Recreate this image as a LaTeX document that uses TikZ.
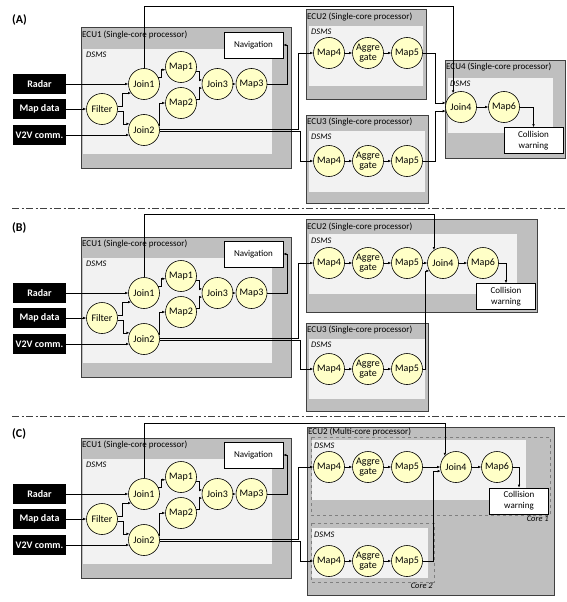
\documentclass[tikz,border=0pt]{standalone}
\usepackage{fontspec}
\setmainfont{Carlito}
\usetikzlibrary{arrows.meta}
\definecolor{ecugray}{HTML}{BFBFBF}
\definecolor{dsmsgray}{HTML}{F2F2F2}
\definecolor{opyellow}{HTML}{FFFFC7}
\definecolor{boxline}{HTML}{404040}
\definecolor{coregray}{HTML}{7F7F7F}

\newcommand{\ecuone}[2]{%
\begin{scope}[shift={(0,#2)}, name prefix=#1-]
\draw[ecu] (81,0) rectangle (291,140);
\fill[dsms] (83,21) rectangle (272,126);
\node[ecutitle] at (81,7) {ECU1 (Single-core processor)};
\node[dsmstitle] at (85,27) {DSMS};
\node(nav)[sink] at (253.5,17) {Navigation};
\node(radar)[src] at (39.5,56) {Radar};
\node(mapdata)[src] at (39.5,81) {Map data};
\node(v2v)[src] at (39.5,107) {V2V comm.};
\node(filter)[op] at (102,81) {Filter};
\node(join1)[op] at (144,56) {Join1};
\node(join2)[op] at (144,102) {Join2};
\node(map1)[op] at (181,39) {Map1};
\node(map2)[op] at (181,75) {Map2};
\node(join3)[op] at (217.5,56) {Join3};
\node(map3)[op] at (251.5,56) {Map3};
\draw[flow] (radar.east) -- (join1.west);
\draw[flow] (mapdata.east) -- (filter.west);
\draw[flow] (v2v.east) -- (v2v.east -| join2.200);
\draw[flow] (filter.10) -- ++(5,0) |- (join1.215);
\draw[flow] (filter.-8) -- ++(6,0) |- (join2.157);
\draw[flow] (join1.25) -- ++(3,0) |- (map1.190);
\draw[flow] (join2.15) |- (map2.west);
\draw[flow] (map1.345) -- ++(3,0) |- (join3.165);
\draw[flow] (map2.15) -- ++(3,0) |- (join3.195);
\draw[flow] (join3) -- (map3);
\draw[flow] (map3.east) -- ++(20,0) |- (nav.east);
\end{scope}}

\begin{document}
\begin{tikzpicture}[x=1pt,y=-1pt,
  ecu/.style={draw=boxline, fill=ecugray, line width=1pt},
  dsms/.style={fill=dsmsgray},
  core/.style={draw=coregray, dashed, line width=0.6pt},
  ecutitle/.style={anchor=west, inner sep=1pt, font=\fontsize{9}{10}\selectfont},
  dsmstitle/.style={anchor=west, inner sep=1pt, font=\fontsize{8.5}{10}\selectfont\itshape},
  coretitle/.style={anchor=north east, inner sep=1pt, font=\fontsize{8.5}{10}\selectfont\itshape},
  op/.style={circle, draw, line width=0.6pt, fill=opyellow, minimum size=31pt, inner sep=0pt, align=center, font=\fontsize{10}{10}\selectfont},
  src/.style={fill=black, text=white, minimum width=53pt, minimum height=20pt, inner sep=0pt, font=\fontsize{10}{12}\selectfont\bfseries},
  sink/.style={draw, fill=white, line width=0.6pt, minimum width=59pt, minimum height=26pt, inner sep=1pt, align=center, font=\fontsize{9}{11}\selectfont},
  flow/.style={line width=0.6pt, -{Latex[length=3pt,width=2.6pt]}},
  panel/.style={anchor=west, inner sep=0pt, font=\fontsize{12}{14}\selectfont\bfseries},
  cut/.style={draw=black!75, line width=0.9pt, dash pattern=on 7pt off 2.5pt on 2pt off 2.5pt}]
\useasboundingbox (0,0) rectangle (567,602);

% (A)
\node[panel] at (12,20) {(A)};
\ecuone{a}{28}
\draw[ecu] (306,10) rectangle (426,99);
\fill[dsms] (309,26) rectangle (423,86);
\node[ecutitle] at (306,17) {ECU2 (Single-core processor)};
\node[dsmstitle] at (310,32) {DSMS};
\node(a-map4)[op] at (329,53) {Map4};
\node(a-agg)[op] at (368,53) {Aggre\\gate};
\node(a-map5)[op] at (407,53) {Map5};
\draw[ecu] (306,115) rectangle (428,203);
\fill[dsms] (309,131) rectangle (425,192);
\node[ecutitle] at (306,122) {ECU3 (Single-core processor)};
\node[dsmstitle] at (310,137) {DSMS};
\node(a-map4b)[op] at (329,161) {Map4};
\node(a-aggb)[op] at (368,161) {Aggre\\gate};
\node(a-map5b)[op] at (407,161) {Map5};
\draw[ecu] (445,61) rectangle (565,158);
\fill[dsms] (448,78) rectangle (553,133);
\node[ecutitle] at (445,67) {ECU4 (Single-core processor)};
\node[dsmstitle] at (449,84) {DSMS};
\node(a-join4)[op] at (461,107) {Join4};
\node(a-map6)[op] at (504,107) {Map6};
\node(a-warn)[sink] at (533.5,140.5) {Collision\\warning};
\draw[flow] (a-map4) -- (a-agg);
\draw[flow] (a-agg) -- (a-map5);
\draw[flow] (a-map4b) -- (a-aggb);
\draw[flow] (a-aggb) -- (a-map5b);
\draw[flow] (a-join4) -- (a-map6);
\draw[flow] (a-map6.east) -| (a-warn.north);
\draw[flow] (a-map5.east) -- ++(12,0) |- (a-join4.165);
\draw[flow] (a-map5b.east) -- ++(12,0) |- (a-join4.195);
\draw[flow] (a-join2.4) -- ++(139,0) |- (a-map4.west);
\draw[flow] (a-join2.-6) -- ++(141,0) |- (a-map4b.west);
\draw[flow] (a-join1.north) -- (a-join1.north |- 0,6) -| (a-join4.120);

% (B)
\draw[cut] (12,208) -- (567,208);
\node[panel] at (12,228) {(B)};
\ecuone{b}{237}
\draw[ecu] (306,219) rectangle (537,312);
\fill[dsms] (309,234) rectangle (517,294);
\node[ecutitle] at (306,227) {ECU2 (Single-core processor)};
\node[dsmstitle] at (310,241) {DSMS};
\node(b-map4)[op] at (329,263) {Map4};
\node(b-agg)[op] at (368,263) {Aggre\\gate};
\node(b-map5)[op] at (407,263) {Map5};
\node(b-join4)[op] at (443,263) {Join4};
\node(b-map6)[op] at (483,263) {Map6};
\node(b-warn)[sink] at (506,296.5) {Collision\\warning};
\draw[ecu] (306,323) rectangle (428,411);
\fill[dsms] (309,339) rectangle (425,399);
\node[ecutitle] at (306,330) {ECU3 (Single-core processor)};
\node[dsmstitle] at (310,345) {DSMS};
\node(b-map4b)[op] at (329,369) {Map4};
\node(b-aggb)[op] at (368,369) {Aggre\\gate};
\node(b-map5b)[op] at (407,369) {Map5};
\draw[flow] (b-map4) -- (b-agg);
\draw[flow] (b-agg) -- (b-map5);
\draw[flow] (b-map5) -- (b-join4);
\draw[flow] (b-join4) -- (b-map6);
\draw[flow] (b-map6.east) -| (b-warn.north);
\draw[flow] (b-map4b) -- (b-aggb);
\draw[flow] (b-aggb) -- (b-map5b);
\draw[flow] (b-map5b.east) -- ++(2,0) |- (b-join4.210);
\draw[flow] (b-join2.4) -- ++(139,0) |- (b-map4.west);
\draw[flow] (b-join2.-6) -- ++(141,0) |- (b-map4b.west);
\draw[flow] (b-join1.north) -- (b-join1.north |- 0,214) -| (b-join4.125);

% (C)
\draw[cut] (12,416) -- (567,416);
\node[panel] at (12,434) {(C)};
\ecuone{c}{438}
\draw[ecu] (307,427) rectangle (554,595);
\node[ecutitle] at (307,432) {ECU2 (Multi-core processor)};
\draw[core] (311,437) rectangle (550,515);
\fill[dsms] (312,440) rectangle (526,500);
\node[coretitle] at (550,515) {Core 1};
\node[dsmstitle] at (313,446) {DSMS};
\draw[core] (311,523) rectangle (434,582);
\fill[dsms] (312,528) rectangle (428,578);
\node[coretitle] at (434,582) {Core 2};
\node[dsmstitle] at (313,535) {DSMS};
\node(c-map4)[op] at (329,467) {Map4};
\node(c-agg)[op] at (368,467) {Aggre\\gate};
\node(c-map5)[op] at (407,467) {Map5};
\node(c-join4)[op] at (456,467) {Join4};
\node(c-map6)[op] at (497,467) {Map6};
\node(c-warn)[sink] at (519,501) {Collision\\warning};
\node(c-map4b)[op] at (329,561) {Map4};
\node(c-aggb)[op] at (368,561) {Aggre\\gate};
\node(c-map5b)[op] at (407,561) {Map5};
\draw[flow] (c-map4) -- (c-agg);
\draw[flow] (c-agg) -- (c-map5);
\draw[flow] (c-map5) -- (c-join4);
\draw[flow] (c-join4) -- (c-map6);
\draw[flow] (c-map6.east) -| (c-warn.north);
\draw[flow] (c-map4b) -- (c-aggb);
\draw[flow] (c-aggb) -- (c-map5b);
\draw[flow] (c-map5b.east) -- ++(10,0) |- (c-join4.195);
\draw[flow] (c-join2.4) -- ++(139,0) |- (c-map4.west);
\draw[flow] (c-join2.-6) -- ++(141,0) |- (c-map4b.west);
\draw[flow] (c-join1.north) -- (c-join1.north |- 0,423) -| (c-join4.135);
\end{tikzpicture}
\end{document}
